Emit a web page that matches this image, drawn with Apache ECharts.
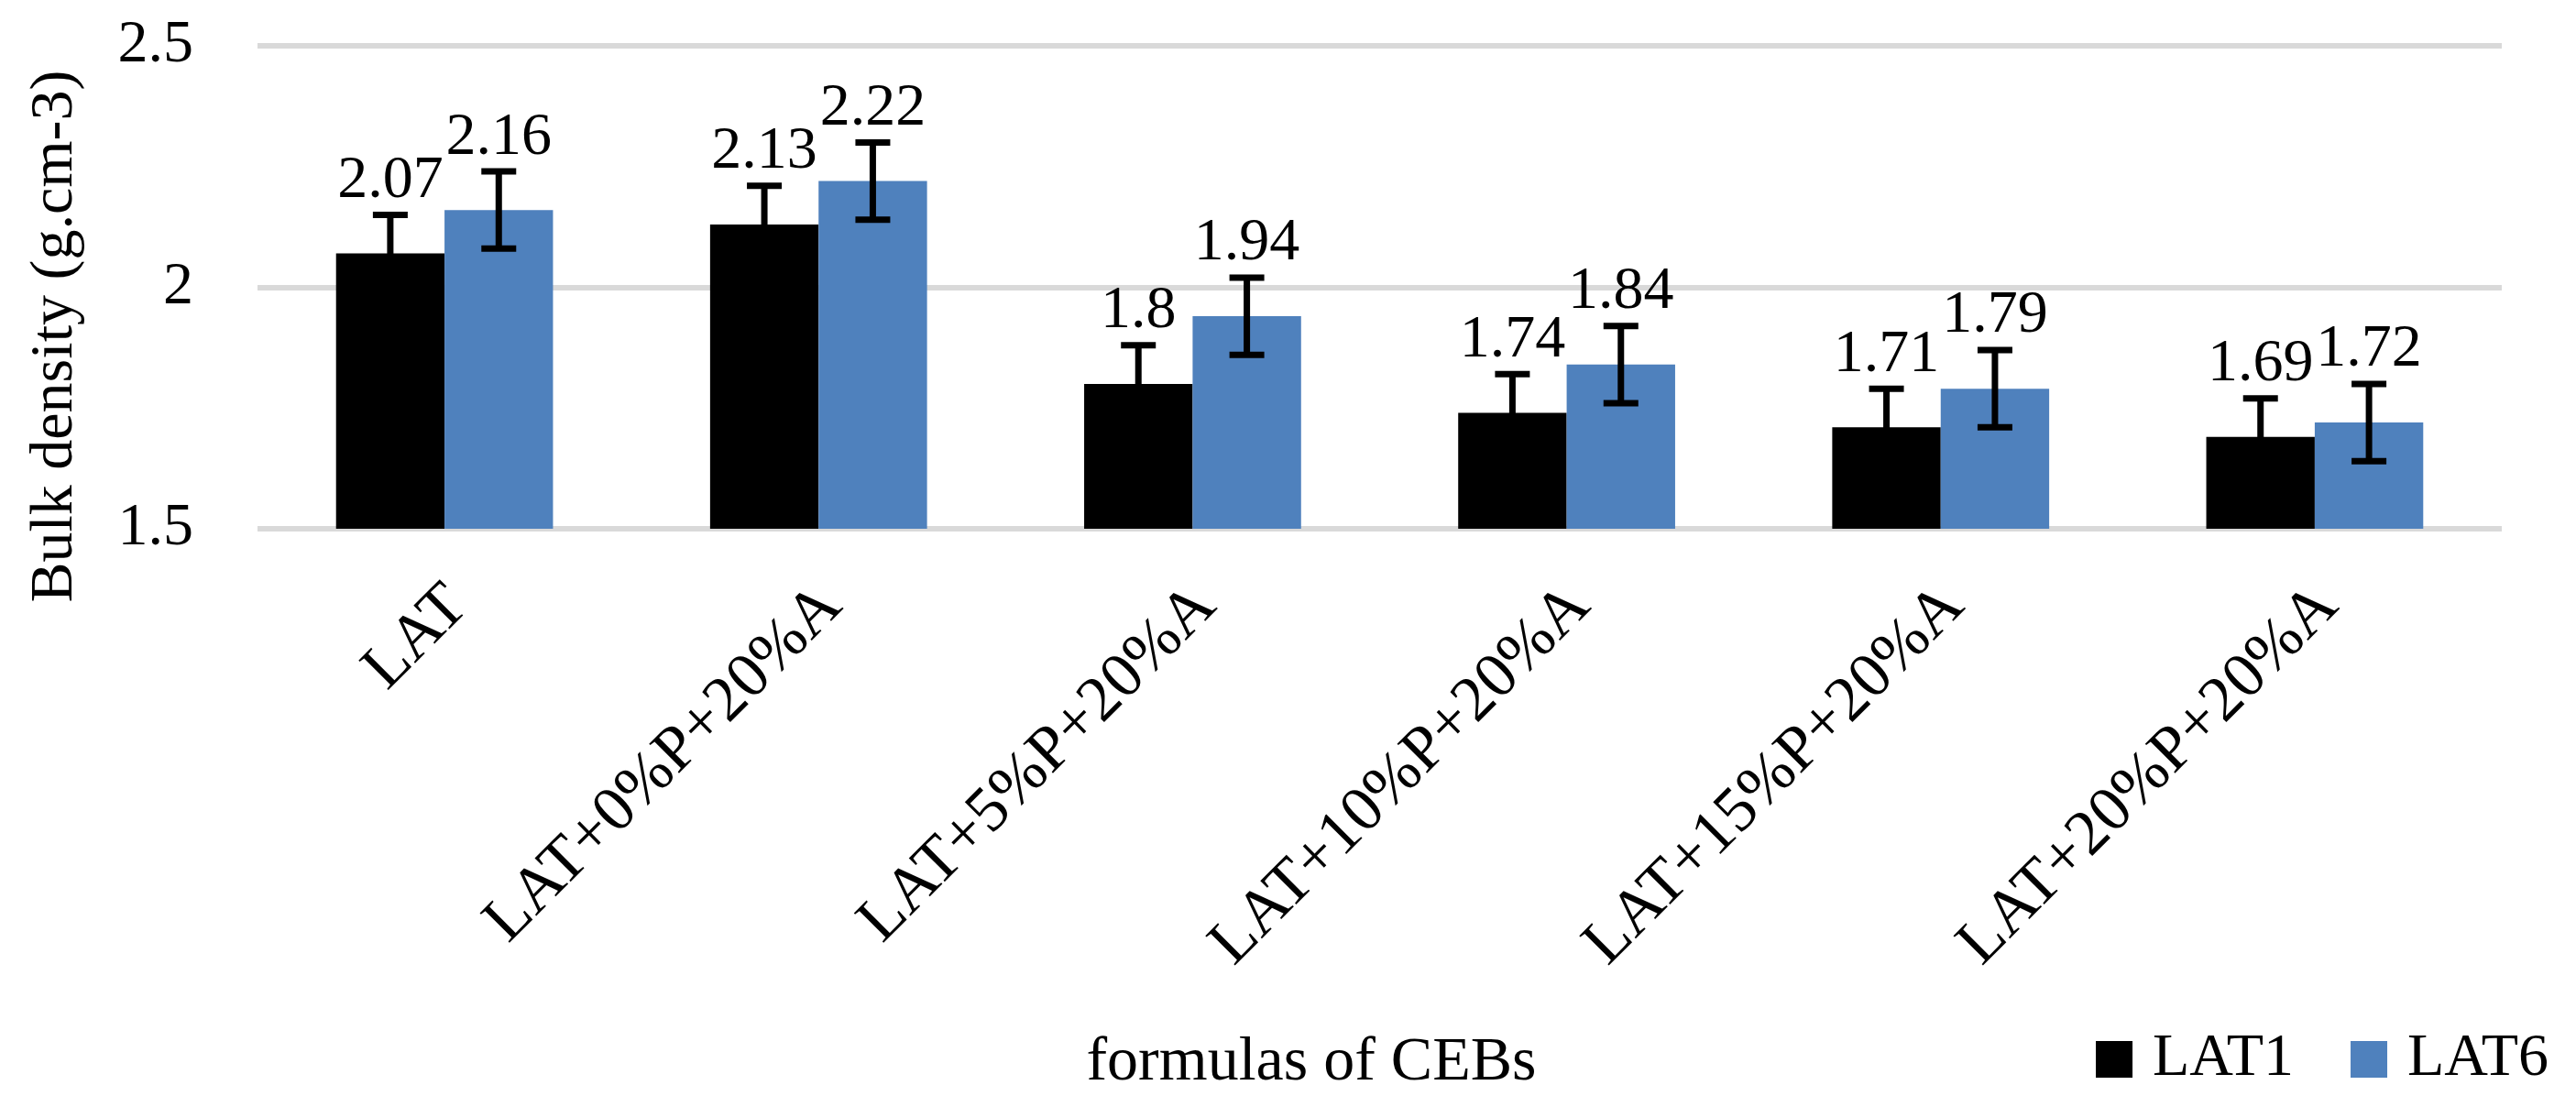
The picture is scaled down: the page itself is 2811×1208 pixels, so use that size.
<!DOCTYPE html>
<html>
<head>
<meta charset="utf-8">
<script src="https://cdn.jsdelivr.net/npm/echarts@6/dist/echarts.min.js"></script>
<style>
html,body{margin:0;padding:0;background:#fff;}
#chart{width:2811px;height:1208px;}
</style>
</head>
<body>
<div id="chart"></div>
<script>
const categories = ['LAT', 'LAT+0%P+20%A', 'LAT+5%P+20%A', 'LAT+10%P+20%A', 'LAT+15%P+20%A', 'LAT+20%P+20%A'];
const lat1 = [2.07, 2.13, 1.80, 1.74, 1.71, 1.69];
const lat6 = [2.16, 2.22, 1.94, 1.84, 1.79, 1.72];
const lat1Err = [0.08, 0.08, 0.08, 0.08, 0.08, 0.08];
const lat6Err = [0.08, 0.08, 0.08, 0.08, 0.08, 0.08];
const yTicks = [1.5, 2, 2.5];

const FONT = 'Liberation Serif';
const BAR_FRAC = 0.29; // each bar = (1 - 0.42)/2 of band

function errRender(sign) {
  return function (params, api) {
    const x = api.value(0), v = api.value(1), e = api.value(2);
    const band = api.size([1, 0])[0];
    const off = sign * band * BAR_FRAC / 2;
    const top = api.coord([x, v + e]);
    const bot = api.coord([x, v - e]);
    const cx = top[0] + off;
    const cap = 19;
    const st = { stroke: '#000', lineWidth: 7 };
    return {
      type: 'group',
      children: [
        { type: 'line', shape: { x1: cx, y1: top[1], x2: cx, y2: bot[1] }, style: st },
        { type: 'line', shape: { x1: cx - cap, y1: top[1], x2: cx + cap, y2: top[1] }, style: st },
        { type: 'line', shape: { x1: cx - cap, y1: bot[1], x2: cx + cap, y2: bot[1] }, style: st }
      ]
    };
  };
}

const chart = echarts.init(document.getElementById('chart'));
const labelStyle = { show: true, position: 'top', distance: 46, fontSize: 66, fontFamily: FONT, color: '#000' };
chart.setOption({
  animation: false,
  backgroundColor: '#fff',
  textStyle: { fontFamily: FONT, color: '#000' },
  grid: { left: 281, right: 81, top: 50, bottom: 631, containLabel: false },
  legend: {
    data: ['LAT1', 'LAT6'],
    right: 25, top: 1118,
    icon: 'rect', itemWidth: 40, itemHeight: 40, itemGap: 62,
    textStyle: { fontSize: 66, fontFamily: FONT, color: '#000', padding: [0, 0, 0, 17] }
  },
  xAxis: {
    type: 'category',
    data: categories,
    axisLine: { show: false },
    axisTick: { show: false },
    axisLabel: {
      interval: 0, rotate: 45, margin: 39,
      fontSize: 70, fontFamily: FONT, color: '#000',
      align: 'right', verticalAlign: 'top', padding: [0, 14, 0, 0]
    }
  },
  yAxis: {
    type: 'value', min: 1.5, max: 2.5, interval: 0.5,
    axisLine: { show: false }, axisTick: { show: false },
    axisLabel: { margin: 70, fontSize: 66, fontFamily: FONT, color: '#000',
      formatter: v => { const t = yTicks.find(k => Math.abs(k - v) < 1e-9); return t === undefined ? '' : String(t); } },
    splitLine: { lineStyle: { color: '#d9d9d9', width: 6 } }
  },
  graphic: [
    { type: 'text', x: 61, y: 367, rotation: Math.PI / 2,
      style: { text: 'Bulk density (g.cm-3)', fontSize: 66, fontFamily: FONT, fill: '#000',
        textAlign: 'center', textVerticalAlign: 'middle', align: 'center', verticalAlign: 'middle' } },
    { type: 'text', x: 1431, y: 1160,
      style: { text: 'formulas of CEBs', fontSize: 68, fontFamily: FONT, fill: '#000',
        textAlign: 'center', textVerticalAlign: 'middle', align: 'center', verticalAlign: 'middle' } }
  ],
  series: [
    { name: 'LAT1', type: 'bar', data: lat1, barGap: '0%', barCategoryGap: '42%', itemStyle: { color: '#000000' }, label: labelStyle, z: 2 },
    { name: 'LAT6', type: 'bar', data: lat6, barGap: '0%', barCategoryGap: '42%', itemStyle: { color: '#4f81bd' }, label: labelStyle, z: 2 },
    { name: 'err1', type: 'custom', renderItem: errRender(-1), encode: { x: 0, y: [1] }, z: 5,
      data: lat1.map((v, i) => [i, v, lat1Err[i]]) },
    { name: 'err6', type: 'custom', renderItem: errRender(1), encode: { x: 0, y: [1] }, z: 5,
      data: lat6.map((v, i) => [i, v, lat6Err[i]]) }
  ]
});
</script>
</body>
</html>
